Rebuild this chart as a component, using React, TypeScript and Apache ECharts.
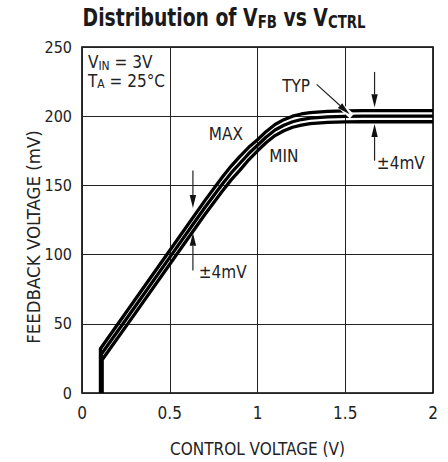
import React, { useEffect, useRef } from "react";
import * as echarts from "echarts";

const FONT = '"Liberation Sans Narrow", "DejaVu Sans Condensed", "Roboto", sans-serif';

// Curve data (control voltage V, feedback voltage mV)
const maxX = [0.105, 0.105, 0.3, 0.5, 0.7, 0.8, 0.85, 0.9, 0.95, 1.0, 1.05, 1.1, 1.15, 1.2, 1.25, 1.3, 1.4, 1.5, 1.6, 2.0];
const maxY = [0, 32, 67, 103, 139, 156, 164, 171, 177.5, 183, 189, 194, 197.5, 200, 201.6, 202.6, 203.5, 203.9, 204, 204];
const typX = [0.11, 0.11, 0.3, 0.5, 0.7, 0.8, 0.85, 0.9, 0.95, 1.0, 1.05, 1.1, 1.15, 1.2, 1.25, 1.3, 1.4, 1.5, 1.6, 2.0];
const typY = [0, 28, 62, 98, 134, 151, 159, 166, 173, 179, 185, 190, 193.5, 196, 197.6, 198.6, 199.5, 199.9, 200, 200];
const minX = [0.115, 0.115, 0.3, 0.5, 0.7, 0.8, 0.85, 0.9, 0.95, 1.0, 1.05, 1.1, 1.15, 1.2, 1.25, 1.3, 1.4, 1.5, 1.6, 2.0];
const minY = [0, 24, 57, 93, 129, 146, 154, 161, 168.5, 175, 181, 186, 189.5, 192, 193.6, 194.6, 195.5, 195.9, 196, 196];

const xTicks = [0, 0.5, 1, 1.5, 2];
const yTicks = [0, 50, 100, 150, 200, 250];

// Annotation anchor points in data coordinates
const labelMax = [0.82, 187];
const labelMin = [1.15, 171];
const labelTyp = [1.22, 222];
const typArrow = [[1.337, 223], [1.525, 201.4]];
const rightArrowX = 1.667;
const rightDown = [232, 206.4];
const rightUp = [167.9, 194.3];
const rightLabel = [1.68, 166];
const leftArrowX = 0.632;
const leftDown = [160.7, 133.6];
const leftUp = [88.6, 115.7];
const leftLabel = [0.665, 87.5];
const condLabel1 = [0.034, 239];
const condLabel2 = [0.034, 225.5];

const zip = (xs: number[], ys: number[]) => xs.map((x, i) => [x, ys[i]]);

export default function App() {
  const ref = useRef<HTMLDivElement>(null);
  useEffect(() => {
    if (!ref.current) return;
    const chart = echarts.init(ref.current, undefined, { renderer: "svg" });
    const lineStyle = { color: "#000", width: 3.3 };
    chart.setOption({
      animation: false,
      backgroundColor: "#fff",
      grid: {
        left: 82,
        right: 15,
        top: 47,
        bottom: 65,
        show: true,
        borderColor: "#000",
        borderWidth: 1.6,
        backgroundColor: "transparent",
      },
      xAxis: {
        type: "value",
        min: xTicks[0],
        max: xTicks[xTicks.length - 1],
        interval: 0.5,
        name: "CONTROL VOLTAGE (V)",
        nameLocation: "middle",
        nameGap: 47,
        nameTextStyle: { fontFamily: FONT, fontSize: 17, color: "#222" },
        axisLine: { show: false },
        axisTick: { show: false },
        axisLabel: { fontFamily: FONT, fontSize: 17, color: "#222", margin: 11 },
        splitLine: { show: true, lineStyle: { color: "#222", width: 1 } },
      },
      yAxis: {
        type: "value",
        min: yTicks[0],
        max: yTicks[yTicks.length - 1],
        interval: 50,
        axisLine: { show: false },
        axisTick: { show: false },
        axisLabel: { fontFamily: FONT, fontSize: 16, color: "#222", margin: 10 },
        splitLine: { show: true, lineStyle: { color: "#222", width: 1 } },
      },
      series: [
        { name: "MAX", type: "line", data: zip(maxX, maxY), showSymbol: false, lineStyle, z: 3 },
        { name: "TYP", type: "line", data: zip(typX, typY), showSymbol: false, lineStyle, z: 3 },
        { name: "MIN", type: "line", data: zip(minX, minY), showSymbol: false, lineStyle, z: 3 },
      ],
    });

    const P = (x: number, y: number) => chart.convertToPixel({ gridIndex: 0 }, [x, y]) as number[];
    const txt = (p: number[], text: string, align = "left", extra: any = {}) => ({
      type: "text",
      x: p[0],
      y: p[1],
      z: 10,
      style: {
        text,
        fontFamily: FONT,
        fontSize: 17,
        fill: "#222",
        align,
        verticalAlign: "middle",
        ...extra,
      },
    });
    const arrow = (a: number[], b: number[], halo = false) => {
      const dx = b[0] - a[0];
      const dy = b[1] - a[1];
      const len = Math.hypot(dx, dy);
      const ux = dx / len;
      const uy = dy / len;
      const hl = 13;
      const hw = 3.2;
      const bx = b[0] - ux * hl;
      const by = b[1] - uy * hl;
      const els: any[] = [];
      if (halo) {
        els.push({
          type: "line",
          z: 9,
          shape: { x1: a[0] + ux * (len * 0.6), y1: a[1] + uy * (len * 0.6), x2: b[0] + ux * 3, y2: b[1] + uy * 3 },
          style: { stroke: "#fff", lineWidth: 6 },
        });
      }
      els.push({
        type: "line",
        z: 10,
        shape: { x1: a[0], y1: a[1], x2: bx, y2: by },
        style: { stroke: "#222", lineWidth: 1.2 },
      });
      els.push({
        type: "polygon",
        z: 10,
        shape: {
          points: [
            [b[0], b[1]],
            [bx - uy * hw, by + ux * hw],
            [bx + uy * hw, by - ux * hw],
          ],
        },
        style: { fill: "#111" },
      });
      return els;
    };

    const subRich = {
      s: { fontFamily: FONT, fontSize: 12, fill: "#222", padding: [7, 0, 0, 0] },
    };

    chart.setOption({
      graphic: [
        {
          type: "text",
          x: 224,
          y: 17,
          scaleX: 0.87,
          z: 10,
          style: {
            text: "{t|Distribution of V}{s|FB}{t| vs V}{s|CTRL}",
            align: "center",
            verticalAlign: "middle",
            rich: {
              t: { fontFamily: FONT, fontSize: 24, fontWeight: "bold", fill: "#1a1a1a" },
              s: { fontFamily: FONT, fontSize: 17, fontWeight: "bold", fill: "#1a1a1a", padding: [10, 0, 0, 0] },
            },
          },
        },
        txt(P(condLabel1[0], condLabel1[1]), "V{s|IN} = 3V", "left", { rich: subRich }),
        txt(P(condLabel2[0], condLabel2[1]), "T{s|A} = 25°C", "left", { rich: subRich }),
        txt(P(labelMax[0], labelMax[1]), "MAX", "center"),
        txt(P(labelMin[0], labelMin[1]), "MIN", "center"),
        txt(P(labelTyp[0], labelTyp[1]), "TYP", "center"),
        txt(P(rightLabel[0], rightLabel[1]), "±4mV", "left"),
        txt(P(leftLabel[0], leftLabel[1]), "±4mV", "left"),
        ...arrow(P(typArrow[0][0], typArrow[0][1]), P(typArrow[1][0], typArrow[1][1]), true),
        ...arrow(P(rightArrowX, rightDown[0]), P(rightArrowX, rightDown[1])),
        ...arrow(P(rightArrowX, rightUp[0]), P(rightArrowX, rightUp[1])),
        ...arrow(P(leftArrowX, leftDown[0]), P(leftArrowX, leftDown[1])),
        ...arrow(P(leftArrowX, leftUp[0]), P(leftArrowX, leftUp[1])),
        {
          type: "text",
          x: 33,
          y: 237,
          rotation: Math.PI / 2,
          z: 10,
          style: {
            text: "FEEDBACK VOLTAGE (mV)",
            fontFamily: FONT,
            fontSize: 18.5,
            fill: "#222",
            align: "center",
            verticalAlign: "middle",
          },
        },
      ],
    });
    return () => chart.dispose();
  }, []);
  return <div ref={ref} style={{ position: "fixed", left: 0, top: 0, width: 448, height: 462 }} />;
}
